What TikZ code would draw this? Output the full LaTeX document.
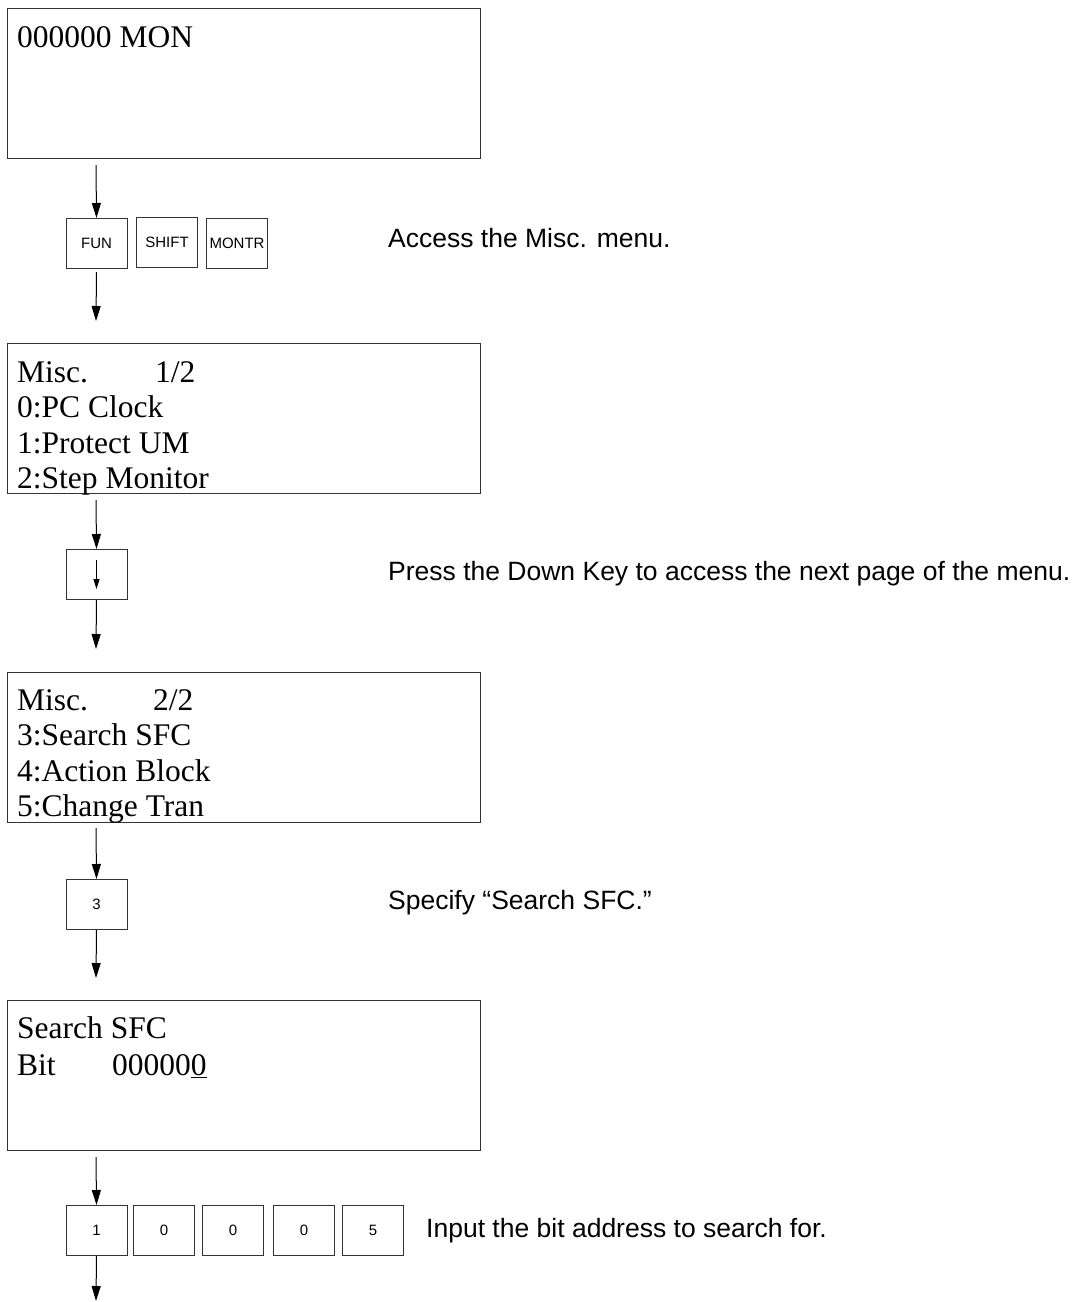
\documentclass[tikz,border=0pt]{standalone}
\usepackage{fontspec}
\setmainfont{Liberation Serif}
\setsansfont{Liberation Sans}
\usetikzlibrary{arrows.meta}
\tikzset{
  screen/.style={draw=black!80, line width=1.2pt, minimum width=473pt, minimum height=150pt, anchor=north west, inner sep=0pt},
  scr/.style={anchor=base west, inner sep=0pt, font=\fontsize{31.5}{35}\selectfont},
  keybox/.style={draw=black!80, line width=1pt, minimum width=61pt, minimum height=50pt, anchor=north west, inner sep=0pt, font=\sffamily\fontsize{15}{18}\selectfont},
  note/.style={anchor=base west, inner sep=0pt, font=\sffamily\fontsize{26.5}{30}\selectfont},
  flow/.style={-{Triangle[length=15pt,width=9pt]}, line width=1pt},
}
\begin{document}
\begin{tikzpicture}[x=1pt,y=-1pt]
\useasboundingbox (0,0) rectangle (1077,1302);
% screens
\node[screen] (s1) at (7,8) {};
\node[screen] (s2) at (7,343) {};
\node[screen] (s3) at (7,672) {};
\node[screen] (s4) at (7,1000) {};
\node[scr] (t11) at (17,47) {000000 MON};
\node[scr] (t21) at (17,382) {\makebox[138pt][l]{Misc.}1/2};
\node[scr] (t22) at (17,417.5) {0:PC Clock};
\node[scr] (t23) at (17,453) {1:Protect UM};
\node[scr] (t24) at (17,488) {2:Step Monitor};
\node[scr] (t31) at (17,710) {\makebox[136pt][l]{Misc.}2/2};
\node[scr] (t32) at (17,745) {3:Search SFC};
\node[scr] (t33) at (17,781) {4:Action Block};
\node[scr] (t34) at (17,816) {5:Change Tran};
\node[scr] (t41) at (17,1038) {Search SFC};
\node[scr] (t42) at (17,1075) {\makebox[95pt][l]{Bit}00000\underline{0}};
% keys
\node[keybox] (fun) at (65.5,218) {FUN};
\node[keybox] (shift) at (136,217) {SHIFT};
\node[keybox] (montr) at (206,218) {MONTR};
\node[keybox] (down) at (65.5,549) {};
\node[keybox] (three) at (65.5,879) {3};
\node[keybox] (k1) at (65.5,1205) {1};
\node[keybox] (k2) at (133,1205) {0};
\node[keybox] (k3) at (202,1205) {0};
\node[keybox] (k4) at (273,1205) {0};
\node[keybox] (k5) at (342,1205) {5};
\draw[-{Triangle[length=10pt,width=6pt]}, line width=0.8pt] ([yshift=-11pt]down.north) -- ([yshift=11pt]down.south);
% connector coordinates
\coordinate (a1) at (96,165);
\coordinate (b1) at (96,321);
\coordinate (a2) at (96,500);
\coordinate (b2) at (96,649);
\coordinate (a3) at (96,828);
\coordinate (b3) at (96,978);
\coordinate (a4) at (96,1157);
\coordinate (b4) at (96,1301);
\draw[flow] (a1) -- (fun.north);
\draw[flow] ([yshift=-3pt]fun.south) -- (b1);
\draw[flow] (a2) -- (down.north);
\draw[flow] (down.south) -- (b2);
\draw[flow] (a3) -- (three.north);
\draw[flow] (three.south) -- (b3);
\draw[flow] (a4) -- (k1.north);
\draw[flow] (k1.south) -- (b4);
% notes
\node[note] (n1) at (388,247) {Access the Misc. menu.};
\node[note] (n2) at (388,580) {Press the Down Key to access the next page of the menu.};
\node[note] (n3) at (388,909) {Specify “Search SFC.”};
\node[note] (n4) at (426,1237) {Input the bit address to search for.};
\end{tikzpicture}
\end{document}
